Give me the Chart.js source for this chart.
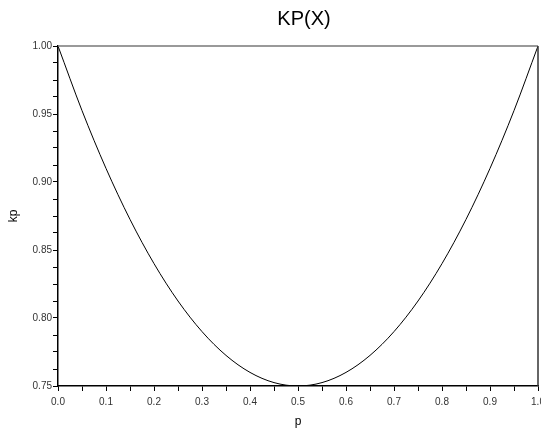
<!DOCTYPE html>
<html>
<head>
<meta charset="utf-8">
<script src="https://cdn.jsdelivr.net/npm/chart.js@4/dist/chart.umd.min.js"></script>
<style>
  body { margin: 0; background: #fff; }
  canvas { display: block; }
</style>
</head>
<body>
<canvas id="kpChart" width="541" height="433"></canvas>
<script>
// curve points read at steps of 0.05
const pValues = [0.00, 0.05, 0.10, 0.15, 0.20, 0.25, 0.30, 0.35, 0.40, 0.45, 0.50,
                 0.55, 0.60, 0.65, 0.70, 0.75, 0.80, 0.85, 0.90, 0.95, 1.00];
const kpValues = [1.000, 0.9525, 0.910, 0.8725, 0.840, 0.8125, 0.790, 0.7725, 0.760, 0.7525, 0.750,
                  0.7525, 0.760, 0.7725, 0.790, 0.8125, 0.840, 0.8725, 0.910, 0.9525, 1.000];

const chartTitle = 'KP(X)';
const xLabel = 'p';
const yLabel = 'kp';

const FONT = '"Liberation Sans", Arial, sans-serif';

function isMajor(v, per) {
    return Math.abs(v * per - Math.round(v * per)) < 1e-6;
}

// title + top/right frame lines
const framePlugin = {
    id: 'frame',
    afterDraw(chart) {
        const ctx = chart.ctx;
        const a = chart.chartArea;
        ctx.save();
        ctx.lineWidth = 1.5;
        ctx.strokeStyle = '#777';
        ctx.beginPath();
        ctx.moveTo(a.left, a.top);
        ctx.lineTo(a.right, a.top);
        ctx.stroke();
        ctx.strokeStyle = '#333';
        ctx.beginPath();
        ctx.moveTo(a.right, a.top);
        ctx.lineTo(a.right, a.bottom);
        ctx.stroke();

        ctx.fillStyle = '#000';
        ctx.font = '20px ' + FONT;
        ctx.textAlign = 'center';
        ctx.textBaseline = 'middle';
        ctx.fillText(chartTitle, 304, 19);
        ctx.restore();
    }
};

const data = {
    datasets: [{
        data: pValues.map((p, i) => ({ x: p, y: kpValues[i] })),
        showLine: true,
        borderColor: '#000',
        borderWidth: 1,
        pointRadius: 0,
        cubicInterpolationMode: 'monotone',
        fill: false
    }]
};

const config = {
    type: 'scatter',
    data: data,
    options: {
        responsive: false,
        animation: false,
        layout: { padding: { top: 46, right: 3, left: 0, bottom: 0 } },
        plugins: {
            legend: { display: false },
            tooltip: { enabled: false },
            title: { display: false }
        },
        scales: {
            x: {
                type: 'linear',
                min: 0,
                max: 1,
                border: { color: '#000', width: 1.5 },
                grid: { drawOnChartArea: false, tickLength: 5, color: '#000', tickWidth: 1 },
                ticks: {
                    stepSize: 0.05,
                    autoSkip: false,
                    maxRotation: 0,
                    padding: 5,
                    color: '#333',
                    font: { family: FONT, size: 10 },
                    callback: v => isMajor(v, 10) ? v.toFixed(1) : ''
                },
                title: {
                    display: true,
                    text: xLabel,
                    color: '#000',
                    font: { family: FONT, size: 12 },
                    padding: { top: 4, bottom: 4 }
                },
                afterFit(scale) {
                    scale.height = 47;
                    scale.paddingLeft = 0;
                    scale.paddingRight = 0;
                }
            },
            y: {
                min: 0.75,
                max: 1,
                border: { color: '#000', width: 1.5 },
                grid: { drawOnChartArea: false, tickLength: 5, color: '#000', tickWidth: 1 },
                ticks: {
                    stepSize: 0.0125,
                    autoSkip: false,
                    maxTicksLimit: 100,
                    padding: 1,
                    color: '#333',
                    font: { family: FONT, size: 10 },
                    callback: v => isMajor(v, 20) ? v.toFixed(2) : ''
                },
                title: {
                    display: true,
                    text: yLabel,
                    color: '#000',
                    font: { family: FONT, size: 12 },
                    padding: { top: 6, bottom: 4 }
                },
                afterFit(scale) {
                    scale.width = 58;
                    scale.paddingTop = 0;
                    scale.paddingBottom = 0;
                }
            }
        }
    },
    plugins: [framePlugin]
};

const ctx = document.getElementById('kpChart').getContext('2d');
const myChart = new Chart(ctx, config);
</script>
</body>
</html>
